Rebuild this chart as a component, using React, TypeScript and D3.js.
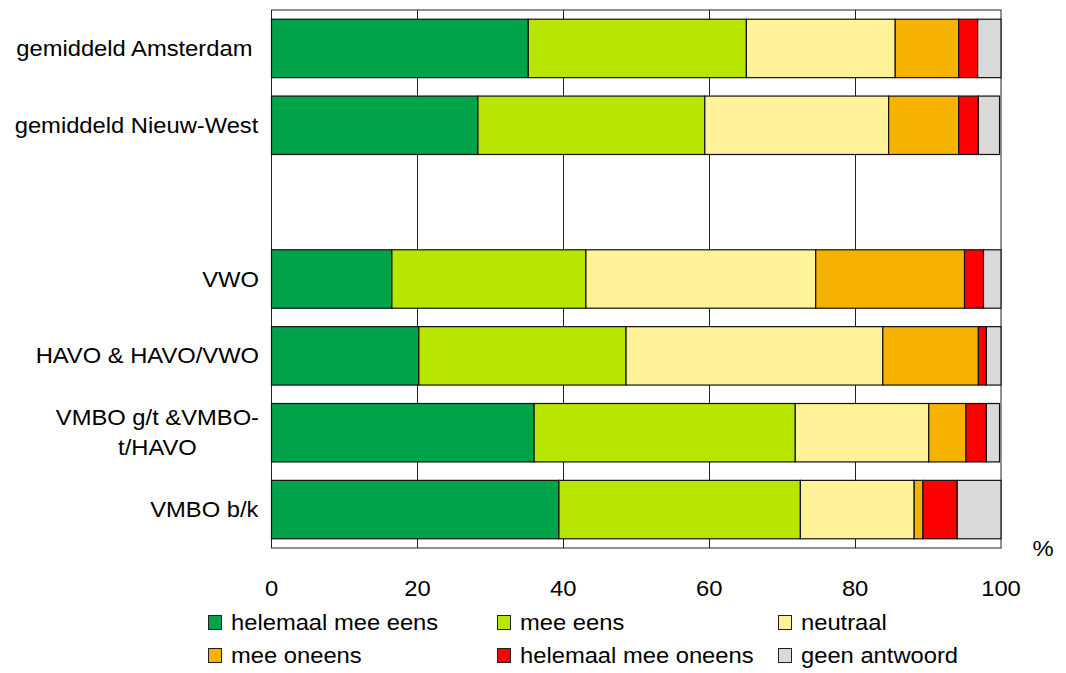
import React, { useEffect, useRef } from "react";
import * as d3 from "d3";

const categories = [
  "gemiddeld Amsterdam ",
  "gemiddeld Nieuw-West",
  " ",
  "VWO",
  "HAVO & HAVO/VWO",
  "VMBO g/t &VMBO-\nt/HAVO",
  "VMBO b/k",
];
const seriesNames = [
  "helemaal mee eens",
  "mee eens",
  "neutraal",
  "mee oneens",
  "helemaal mee oneens",
  "geen antwoord",
];
const colors = ["#00A34A", "#B8E600", "#FFF299", "#F5B300", "#FF0000", "#D9D9D9"];
const helemaalMeeEens = [35.2, 28.3, null, 16.5, 20.2, 36.0, 39.4];
const meeEens = [29.9, 31.1, null, 26.6, 28.4, 35.8, 33.1];
const neutraal = [20.4, 25.2, null, 31.5, 35.2, 18.3, 15.6];
const meeOneens = [8.7, 9.6, null, 20.4, 13.1, 5.1, 1.2];
const helemaalMeeOneens = [2.6, 2.7, null, 2.6, 1.1, 2.8, 4.7];
const geenAntwoord = [3.2, 2.9, null, 2.4, 2.0, 1.8, 6.0];
const xTicks = [0, 20, 40, 60, 80, 100];

const W = 1066;
const H = 673;
const FONT = "'Liberation Sans', Arial, sans-serif";
const FS = 22;
const SX = 1.08;

export default function App() {
  const ref = useRef<SVGSVGElement>(null);
  useEffect(() => {
    const svg = d3.select(ref.current);
    svg.selectAll("*").remove();
    const left = 271.5, right = 1001, top = 10, bottom = 548;
    const x = d3.scaleLinear().domain([0, 100]).range([left, right]);
    const y = d3.scaleBand().domain(categories).range([top, bottom]).paddingInner(0.24).paddingOuter(0.12);
    const series = [helemaalMeeEens, meeEens, neutraal, meeOneens, helemaalMeeOneens, geenAntwoord];

    const addText = (parent: any, tx: number, ty: number, s: string, anchor: string, fs = FS) =>
      parent.append("text")
        .attr("transform", `translate(${tx},${ty}) scale(${SX},1)`)
        .attr("text-anchor", anchor)
        .attr("font-family", FONT).attr("font-size", fs).attr("fill", "#000")
        .style("white-space", "pre")
        .text(s);

    // frame
    svg.append("rect").attr("x", left).attr("y", top).attr("width", right - left).attr("height", bottom - top)
      .attr("fill", "#fff").attr("stroke", "#222").attr("stroke-width", 1);
    // gridlines
    svg.append("g").selectAll("line").data(xTicks.slice(1, -1)).join("line")
      .attr("x1", d => Math.round(x(d)) + 0.5).attr("x2", d => Math.round(x(d)) + 0.5)
      .attr("y1", top).attr("y2", bottom).attr("stroke", "#222").attr("stroke-width", 1);

    // bars
    categories.forEach((c, i) => {
      let acc = 0;
      series.forEach((s, k) => {
        const v = s[i];
        if (v == null) return;
        svg.append("rect")
          .attr("x", x(acc)).attr("y", y(c)!)
          .attr("width", x(acc + v) - x(acc)).attr("height", y.bandwidth())
          .attr("fill", colors[k]).attr("stroke", "#111").attr("stroke-width", 1.2);
        acc += v;
      });
    });

    // y labels
    categories.forEach(c => {
      const lines = c.split("\n");
      const cy = y(c)! + y.bandwidth() / 2;
      const g = svg.append("g");
      const lh = 30;
      lines.forEach((ln, j) => {
        addText(g, 0, cy + (j - (lines.length - 1) / 2) * lh + 7.5, ln, "middle");
      });
      const bb = (g.node() as SVGGElement).getBBox();
      g.attr("transform", `translate(${259 - (bb.x + bb.width)},0)`);
    });

    // x tick labels
    xTicks.forEach(d => addText(svg, x(d), 596, String(d), "middle"));
    addText(svg, 1043, 556, "%", "middle");

    // legend
    const colX = [208, 497, 778];
    const rowY = [615, 648];
    seriesNames.forEach((n, k) => {
      const cx = colX[k % 3];
      const ry = rowY[Math.floor(k / 3)];
      svg.append("rect").attr("x", cx + 0.5).attr("y", ry + 0.5).attr("width", 13).attr("height", 14)
        .attr("fill", colors[k]).attr("stroke", "#222").attr("stroke-width", 1);
      addText(svg, cx + 23, ry + 15, n, "start");
    });
  }, []);
  return (
    <svg ref={ref} width={W} height={H} style={{ position: "absolute", left: 0, top: 0, background: "#fff" }} />
  );
}
